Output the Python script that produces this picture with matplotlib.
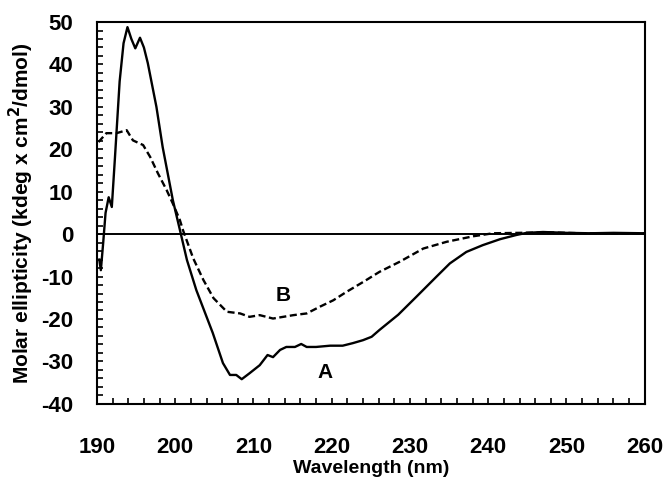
import matplotlib
matplotlib.use("Agg")
import matplotlib.pyplot as plt
from matplotlib.ticker import MultipleLocator

# ==========================
# DATA
# ==========================

wl_a = [190.3, 190.5, 190.8, 191.1, 191.5, 191.9, 192.3, 192.9, 193.4, 193.9,
        194.4, 194.9, 195.5, 196.0, 196.5, 197.6, 198.4, 199.7, 200.6, 201.5,
        202.7, 204.8, 206.1, 207.0, 207.8, 208.5, 209.5, 210.8, 211.8, 212.5,
        213.4, 214.2, 215.3, 216.1, 216.8, 218.0, 219.8, 221.4, 222.7, 224.0,
        225.1, 226.1, 228.5, 230.8, 233.4, 235.1, 237.2, 239.3, 241.5, 243.6,
        244.9, 247.0, 250.0, 253.0, 256.0, 260.0]
cd_a = [-6.0, -8.5, -2.0, 5.0, 8.7, 6.4, 18.0, 36.0, 45.0, 48.8,
        46.0, 43.8, 46.3, 44.0, 40.3, 30.0, 20.5, 8.0, 1.0, -6.1,
        -13.2, -23.3, -30.4, -33.2, -33.2, -34.2, -32.8, -30.9, -28.5, -29.0,
        -27.3, -26.6, -26.6, -25.9, -26.6, -26.6, -26.3, -26.3, -25.7, -25.0,
        -24.2, -22.6, -19.0, -14.8, -10.0, -6.9, -4.2, -2.6, -1.2, -0.2,
        0.3, 0.5, 0.3, 0.2, 0.3, 0.2]

wl_b = [190.2, 191.2, 192.5, 193.8, 194.6, 195.9, 196.8, 197.8, 198.9, 199.7,
        200.6, 201.0, 202.3, 203.6, 204.9, 206.6, 208.3, 209.5, 210.8, 212.5,
        213.8, 215.1, 216.8, 218.5, 220.2, 221.9, 224.0, 226.1, 228.7, 231.7,
        234.7, 238.1, 240.6, 244.0, 248.0, 252.0, 256.0, 260.0]
cd_b = [21.7, 23.8, 23.8, 24.5, 22.1, 21.0, 18.2, 14.3, 10.4, 7.2,
        3.3, 0.9, -5.7, -10.8, -15.1, -18.3, -18.7, -19.5, -19.1, -19.9,
        -19.5, -19.1, -18.7, -17.1, -15.6, -13.6, -11.3, -8.9, -6.5, -3.4,
        -1.8, -0.5, 0.2, 0.3, 0.4, 0.2, 0.2, 0.2]

# ==========================
# PLOT
# ==========================

plt.rcParams["font.family"] = ["Liberation Sans", "DejaVu Sans"]
plt.rcParams["font.weight"] = "bold"
plt.rcParams["axes.unicode_minus"] = False

fig = plt.figure(figsize=(6.64, 4.79), dpi=100)
ax = fig.add_axes([0.146, 0.157, 0.825, 0.797])

ax.axhline(0, color="black", linewidth=1.4)
ax.plot(wl_a, cd_a, color="black", linewidth=1.7)
ax.plot(wl_b, cd_b, color="black", linewidth=1.7, linestyle=(0, (3, 1.5)))

ax.text(213.8, -14.4, "B", fontsize=15, fontweight="bold", ha="center", va="center")
ax.text(219.1, -32.7, "A", fontsize=15, fontweight="bold", ha="center", va="center")

ax.set_xlim(190, 260)
ax.set_ylim(-40, 50)
ax.xaxis.set_major_locator(MultipleLocator(10))
ax.xaxis.set_minor_locator(MultipleLocator(2))
ax.yaxis.set_major_locator(MultipleLocator(10))
ax.yaxis.set_minor_locator(MultipleLocator(2))

ax.tick_params(which="both", direction="in", length=4, width=1.2)
ax.tick_params(axis="x", which="major", pad=24, labelsize=16)
ax.tick_params(axis="y", which="major", pad=17, labelsize=16)
for lab in ax.get_xticklabels() + ax.get_yticklabels():
    lab.set_fontweight("bold")

for s in ax.spines.values():
    s.set_linewidth(1.5)

ax.set_xlabel("Wavelength (nm)", fontsize=14, fontweight="bold", labelpad=1)
ax.set_ylabel("Molar ellipticity (kdeg x cm$^{\\mathbf{2}}$/dmol)",
              fontsize=15, fontweight="bold", labelpad=4)

plt.savefig("out.png", dpi=100)
plt.close()
